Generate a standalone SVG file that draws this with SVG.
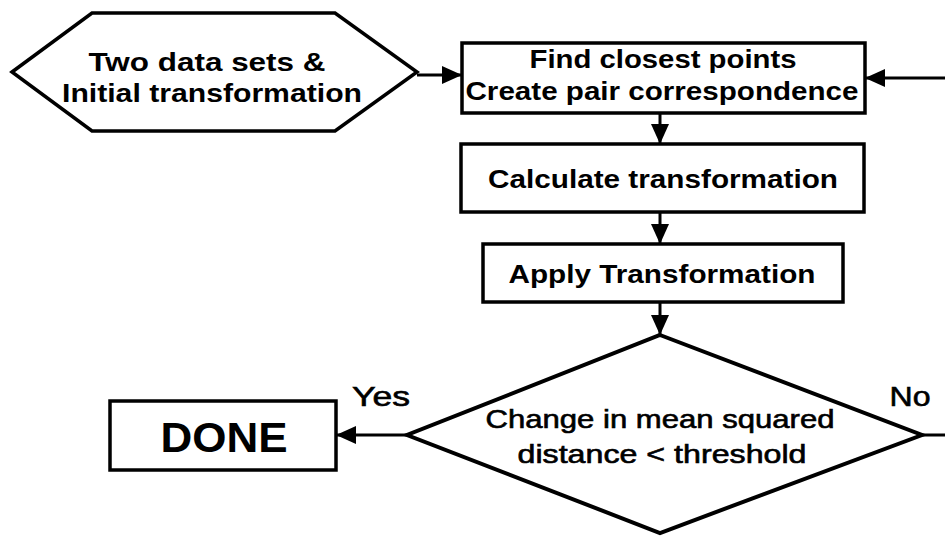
<svg xmlns="http://www.w3.org/2000/svg" width="945" height="537" viewBox="0 0 945 537">
<style>
.shape{fill:#fff;stroke:#000;stroke-width:3.5;stroke-linejoin:miter}
.t{font-family:"Liberation Sans",Arial,sans-serif;font-weight:bold;fill:#000;text-anchor:middle}
.n{font-family:"Liberation Sans",Arial,sans-serif;font-weight:normal;fill:#000;text-anchor:middle;stroke:#000;stroke-width:0.6}
.c{fill:none;stroke:#000;stroke-width:3}
</style>
<defs>
<marker id="ah" markerUnits="userSpaceOnUse" markerWidth="20" markerHeight="20" refX="19" refY="10" orient="auto" viewBox="0 0 20 20">
<path d="M0,1 L20,10 L0,19 z" fill="#000"/>
</marker>
</defs>
<rect width="945" height="537" fill="#fff"/>
<g id="connectors">
<line class="c" x1="417" y1="75" x2="461" y2="75" marker-end="url(#ah)"/>
<path class="c" d="M922,435 L960,435 L960,78 L866,78" marker-end="url(#ah)"/>
<line class="c" x1="660" y1="113" x2="660" y2="143" marker-end="url(#ah)"/>
<line class="c" x1="660" y1="212" x2="660" y2="243" marker-end="url(#ah)"/>
<line class="c" x1="660" y1="302" x2="660" y2="334" marker-end="url(#ah)"/>
<line class="c" x1="407" y1="435" x2="337" y2="435" marker-end="url(#ah)"/>
</g>
<g id="start">
<polygon class="shape" points="12,72 92,13 335,13 417,72 335,131 92,131"/>
<text class="t" x="207" y="71" font-size="26" textLength="237" lengthAdjust="spacingAndGlyphs">Two data sets &amp;</text>
<text class="t" x="212" y="102" font-size="26" textLength="300" lengthAdjust="spacingAndGlyphs">Initial transformation</text>
</g>
<g id="find">
<rect class="shape" x="462" y="43" width="403" height="70"/>
<text class="t" x="663" y="68" font-size="26" textLength="267" lengthAdjust="spacingAndGlyphs">Find closest points</text>
<text class="t" x="662" y="100" font-size="26" textLength="393" lengthAdjust="spacingAndGlyphs">Create pair correspondence</text>
</g>
<g id="calc">
<rect class="shape" x="461" y="144" width="403" height="68"/>
<text class="t" x="663" y="188" font-size="26" textLength="350" lengthAdjust="spacingAndGlyphs">Calculate transformation</text>
</g>
<g id="apply">
<rect class="shape" x="483" y="244" width="360" height="58"/>
<text class="t" x="662" y="283" font-size="26" textLength="307" lengthAdjust="spacingAndGlyphs">Apply Transformation</text>
</g>
<g id="decision">
<polygon class="shape" points="660,335 922,435 660,533 407,435" style="stroke-width:4"/>
<text class="n" x="660" y="428" font-size="25" textLength="349" lengthAdjust="spacingAndGlyphs">Change in mean squared</text>
<text class="n" x="662" y="463" font-size="25" textLength="289" lengthAdjust="spacingAndGlyphs">distance &lt; threshold</text>
</g>
<g id="done">
<rect class="shape" x="110" y="401" width="226" height="69"/>
<text class="t" x="224" y="452" font-size="42" textLength="127" lengthAdjust="spacingAndGlyphs">DONE</text>
</g>
<g id="labels">
<text class="n" x="381" y="406" font-size="27" textLength="58" lengthAdjust="spacingAndGlyphs">Yes</text>
<text class="n" x="910" y="406" font-size="27" textLength="41" lengthAdjust="spacingAndGlyphs">No</text>
</g>
</svg>
